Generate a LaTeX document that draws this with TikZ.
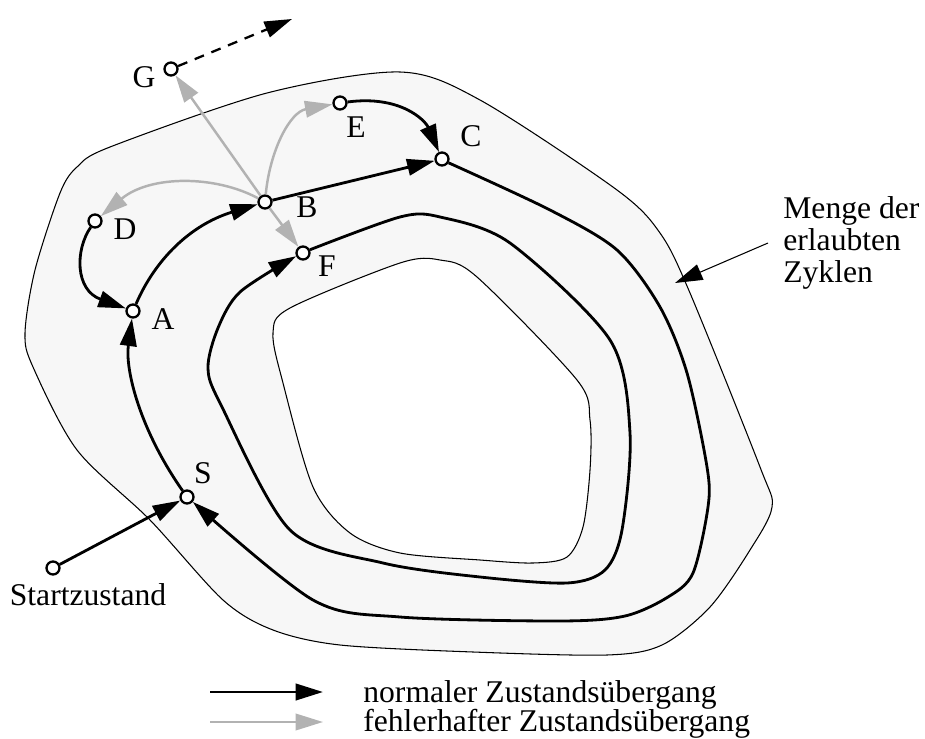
\documentclass[tikz,border=0pt]{standalone}
\usepackage{fontspec}
\setmainfont{Liberation Serif}
\usetikzlibrary{arrows.meta}
\definecolor{zonegray}{gray}{0.97}
\definecolor{faultgray}{gray}{0.7}
\tikzstyle{state}=[circle, draw, fill=white, line width=1.3pt, inner sep=0pt, minimum size=0.26cm]
\tikzstyle{lbl}=[inner sep=0pt, font=\fontsize{18}{18}\selectfont]
\tikzset{headtip/.style={-{Triangle[length=0.55cm,width=0.33cm]}},
  trans/.style={headtip, line width=1.6pt},
  errtrans/.style={headtip, faultgray, line width=1.4pt},
  outline/.style={line width=0.6pt}}

\begin{document}
\begin{tikzpicture}[x=0.02cm, y=-0.02cm]
    \useasboundingbox (0,0) rectangle (925,739);
    % set of permitted cycles
    \draw[outline, fill=zonegray] plot[smooth cycle] coordinates {(400,72) (480,100) (617,190) (660,233) (690,293) (760,467) (772,507) (750,550) (710,607) (662,645) (607,655) (473,652) (340,645) (273,630) (223,600) (150,520) (77,450) (33,367) (25,333) (35,270) (60,193) (77,167) (110,147) (267,93)};
    \draw[outline, fill=white] plot[smooth cycle] coordinates {(273,333) (290,308) (400,263) (440,260) (477,277) (577,380) (590,420) (590,470) (583,527) (567,557) (533,563) (480,560) (400,553) (350,533) (313,487) (283,383)};

    \node[state] (G) at (171,69) {};
    \node[state] (E) at (340,103) {};
    \node[state] (C) at (442,159) {};
    \node[state] (B) at (265,202) {};
    \node[state] (D) at (95,221) {};
    \node[state] (F) at (303,253) {};
    \node[state] (A) at (133,311) {};
    \node[state] (S) at (187,497) {};
    \node[state] (start) at (53,568) {};

    \node[lbl, anchor=base] (lG) at (144,88) {G};
    \node[lbl, anchor=base] (lE) at (356,138) {E};
    \node[lbl, anchor=base] (lC) at (471,147) {C};
    \node[lbl, anchor=base] (lB) at (307,218) {B};
    \node[lbl, anchor=base] (lD) at (125,240) {D};
    \node[lbl, anchor=base] (lF) at (327,277) {F};
    \node[lbl, anchor=base] (lA) at (163,330) {A};
    \node[lbl, anchor=base] (lS) at (203,483) {S};
    \node[lbl, anchor=base] (lStart) at (88,605) {Startzustand};

    % the two cycles
    \draw[trans] plot[smooth] coordinates {(C.-30) (550,210) (617,250) (660,307) (687,373) (707,467) (708,507) (693,573) (668,597) (625,616) (560,621) (400,617) (313,600) (S.-40)};
    \draw[trans] plot[smooth] coordinates {(F.25) (400,217) (440,217) (510,243) (610,340) (630,433) (622,530) (605,570) (567,583) (480,577) (383,563) (290,530) (221,405) (208,368) (218,328) (240,292) (F.205)};

    \draw[trans] (start) -- (S);
    \draw[trans] (S) .. controls (140,430) and (125,370) .. (A);
    \draw[trans] (A) .. controls (155,260) and (190,225) .. (B);
    \draw[trans] (B) -- (C);
    \draw[trans] (D) .. controls (75,250) and (75,290) .. (A);
    \draw[trans] (E) .. controls (400,95) and (425,120) .. (C);

    \draw[errtrans] (B) -- (G);
    \draw[errtrans] (B) .. controls (270,150) and (290,112) .. (E);
    \draw[errtrans] (B) .. controls (215,175) and (150,175) .. (D);
    \draw[errtrans] (B) -- (F);

    \coordinate (away) at (292,19);
    \draw[headtip, line width=1.3pt, dash pattern=on 0.2cm off 0.16cm] (G) -- (away);

    \node[lbl, align=left, anchor=west, inner xsep=0.3cm] (zone) at (768,243) {Menge der\\erlaubten\\Zyklen};
    \coordinate (zoneedge) at (675,283);
    \draw[headtip, outline] (zone.west) -- (zoneedge);

    % legend
    \coordinate (k1) at (210,692);
    \coordinate (k2) at (323,692);
    \coordinate (k3) at (210,722);
    \coordinate (k4) at (323,722);
    \draw[trans] (k1) -- (k2);
    \draw[errtrans] (k3) -- (k4);
    \node[lbl, anchor=base west] (kok) at (363,702) {normaler Zustandsübergang};
    \node[lbl, anchor=base west] (kerr) at (363,731) {fehlerhafter Zustandsübergang};
\end{tikzpicture}
\end{document}
